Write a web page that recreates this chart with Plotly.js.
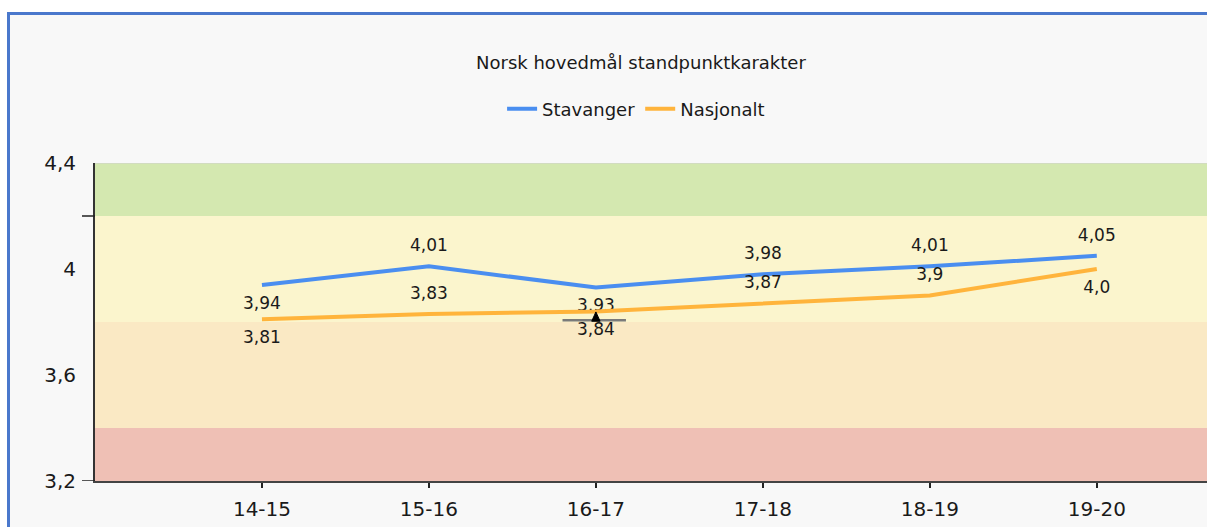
<!DOCTYPE html>
<html>
<head>
<meta charset="utf-8">
<script src="https://cdn.plot.ly/plotly-3.0.1.min.js"></script>
<style>
html,body{margin:0;padding:0;background:#ffffff;width:1207px;height:527px;overflow:hidden;}
#frame{position:absolute;left:7px;top:12px;width:1300px;height:600px;background:#f8f8f8;border-top:3px solid #4a78cc;border-left:3px solid #4a78cc;box-sizing:border-box;}
#chart{position:absolute;left:0;top:0;width:1207px;height:527px;}
</style>
</head>
<body>
<div id="frame"></div>
<div id="chart"></div>
<script>
const categories = ["14-15", "15-16", "16-17", "17-18", "18-19", "19-20"];
const stavanger = [3.94, 4.01, 3.93, 3.98, 4.01, 4.05];
const nasjonalt = [3.81, 3.83, 3.84, 3.87, 3.9, 4.0];
const stavangerLabels = ["3,94", "4,01", "3,93", "3,98", "4,01", "4,05"];
const nasjonaltLabels = ["3,81", "3,83", "3,84", "3,87", "3,9", "4,0"];
const yTickVals = [3.2, 3.6, 4, 4.4];
const yTickText = ["3,2", "3,6", "4", "4,4"];
const bandEdges = [3.2, 3.4, 3.8, 4.2, 4.4];

const xIdx = categories.map((c, i) => i);
const FONT = "DejaVu Sans, Verdana, sans-serif";

const bandColors = ["#efc0b5", "#fae9c4", "#fbf5cd", "#d4e8b0"];
const shapes = [];
for (let i = 0; i < bandEdges.length - 1; i++) {
  shapes.push({type: "rect", xref: "paper", yref: "y", x0: 0, x1: 1, y0: bandEdges[i], y1: bandEdges[i + 1],
    fillcolor: bandColors[i], line: {width: 0}, layer: "below"});
}
shapes.push({type: "line", xref: "paper", yref: "y", x0: 0, x1: 1, y0: 4.4, y1: 4.4, line: {color: "#d0d0d0", width: 1}});
[4.2, 3.2].forEach(v => shapes.push({type: "line", xref: "paper", yref: "y", x0: -13 / 1112, x1: 0, y0: v, y1: v, line: {color: "#222", width: 1.5}}));
shapes.push({type: "line", xref: "x", yref: "y", x0: 1.80, x1: 2.18, y0: 3.807, y1: 3.807, line: {color: "#7a7a7a", width: 2.5}});
shapes.push({type: "path", xref: "x", yref: "y", path: "M 1.975 3.803 L 2.0 3.838 L 2.025 3.803 Z", fillcolor: "#000", line: {color: "#000", width: 1}});

const traces = [
  {x: xIdx, y: stavanger, name: "Stavanger", mode: "lines+markers+text", type: "scatter",
   line: {color: "#4a8ef0", width: 4}, marker: {size: 16, color: "rgba(0,0,0,0)", line: {width: 0}},
   text: stavangerLabels,
   textposition: ["bottom center", "top center", "bottom center", "top center", "top center", "top center"],
   textfont: {family: FONT, size: 17, color: "#1a1a1a"}, hoverinfo: "skip", cliponaxis: false},
  {x: xIdx, y: nasjonalt, name: "Nasjonalt", mode: "lines+markers+text", type: "scatter",
   line: {color: "#ffb43c", width: 4}, marker: {size: 16, color: "rgba(0,0,0,0)", line: {width: 0}},
   text: nasjonaltLabels,
   textposition: ["bottom center", "top center", "bottom center", "top center", "top center", "bottom center"],
   textfont: {family: FONT, size: 17, color: "#1a1a1a"}, hoverinfo: "skip", cliponaxis: false}
];

const layout = {
  width: 1207, height: 527,
  margin: {l: 95, r: 0, t: 163, b: 46, pad: 0},
  paper_bgcolor: "rgba(0,0,0,0)", plot_bgcolor: "rgba(0,0,0,0)",
  font: {family: FONT, color: "#1a1a1a"},
  title: {text: "Norsk hovedmål standpunktkarakter", font: {family: FONT, size: 18, color: "#1a1a1a"},
          xref: "container", x: 0.531, xanchor: "center", yref: "container", y: 1 - 63 / 527, yanchor: "middle"},
  showlegend: true,
  legend: {orientation: "h", xref: "container", x: 0.527, xanchor: "center", yref: "container", y: 1 - 109 / 527, yanchor: "middle",
           font: {family: FONT, size: 18, color: "#1a1a1a"}, bgcolor: "rgba(0,0,0,0)", itemwidth: 30, tracegroupgap: 0},
  xaxis: {range: [-1, 5.66], tickvals: xIdx, ticktext: categories, showgrid: false, zeroline: false,
          showline: true, linecolor: "#444", linewidth: 2, ticks: "outside", ticklen: 5, tickcolor: "#222", tickwidth: 1.5,
          tickfont: {family: FONT, size: 20, color: "#1a1a1a"}, ticklabelstandoff: 4, fixedrange: true},
  yaxis: {range: [3.2, 4.4], tickvals: yTickVals, ticktext: yTickText, showgrid: false, zeroline: false,
          showline: true, linecolor: "#333", linewidth: 2, ticks: "",
          tickfont: {family: FONT, size: 20, color: "#1a1a1a"}, ticklabelstandoff: 13, fixedrange: true},
  shapes: shapes
};

Plotly.newPlot("chart", traces, layout, {displayModeBar: false, staticPlot: true});
</script>
</body>
</html>
